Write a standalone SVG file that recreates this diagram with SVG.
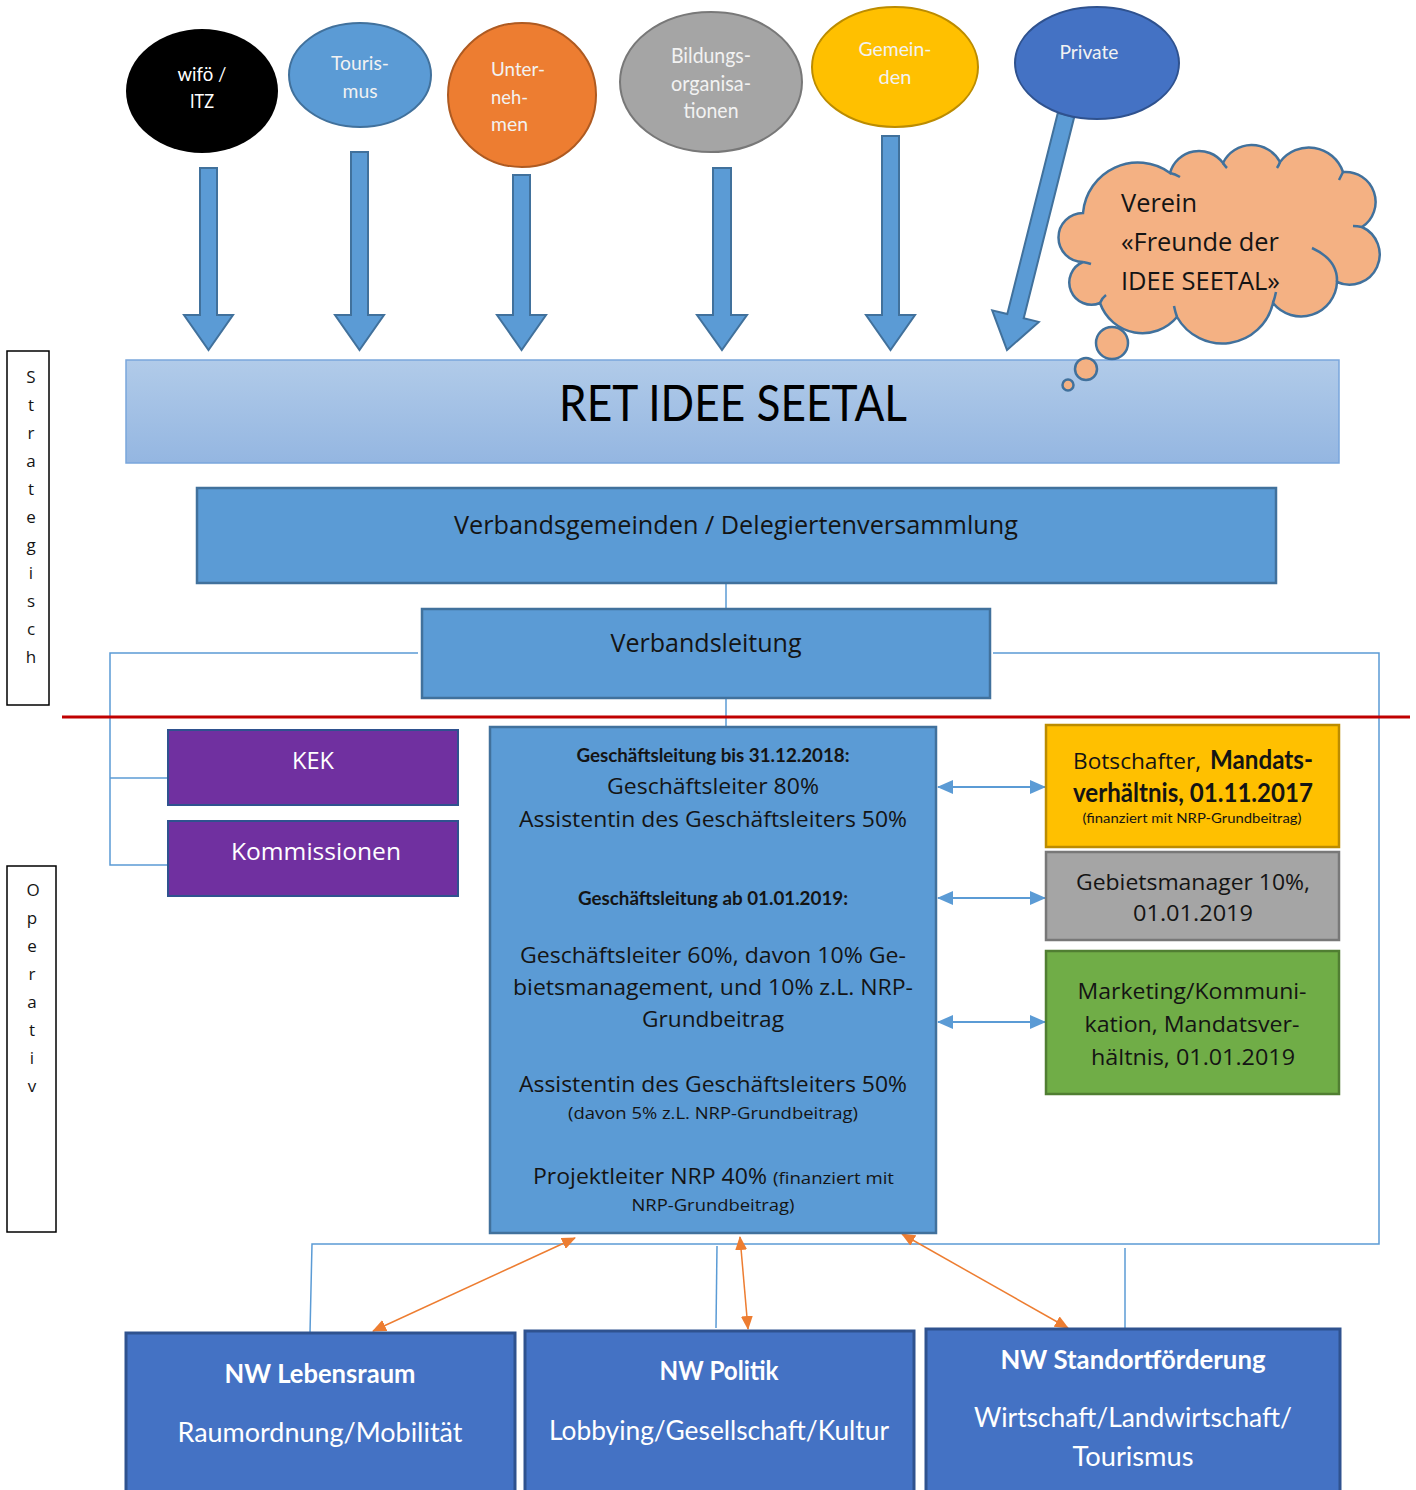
<svg xmlns="http://www.w3.org/2000/svg" width="1416" height="1490" viewBox="0 0 1416 1490">
<style>
.s{font-family:"Open Sans","Noto Sans","DejaVu Sans",sans-serif}
.c{font-family:Lato,"Liberation Sans",sans-serif}
.w{fill:#ffffff}
.k{fill:#141414}
.blk{fill:#5b9bd5;stroke:#41719c;stroke-width:2.5}
.barrow{fill:#5b9bd5;stroke:#41719c;stroke-width:2}
.conn{fill:none;stroke:#5b9bd5;stroke-width:1.5}
.dbl{fill:none;stroke:#5b9bd5;stroke-width:2;marker-start:url(#bh);marker-end:url(#bh)}
.org{fill:none;stroke:#ed7d31;stroke-width:1.5;marker-start:url(#oh);marker-end:url(#oh)}
.nw{fill:#4472c4;stroke:#2f528f;stroke-width:3}
.side{fill:#ffffff;stroke:#000000;stroke-width:1.5}
</style>
<defs>
<linearGradient id="retg" x1="0" y1="0" x2="0" y2="1">
<stop offset="0" stop-color="#b1cbe9"/>
<stop offset="1" stop-color="#94b6e1"/>
</linearGradient>
<marker id="bh" viewBox="0 0 16 14" refX="15" refY="7" markerWidth="16" markerHeight="14" markerUnits="userSpaceOnUse" orient="auto-start-reverse">
<path d="M0,0 L16,7 L0,14 z" fill="#5b9bd5"/>
</marker>
<marker id="oh" viewBox="0 0 14 12" refX="13" refY="6" markerWidth="14" markerHeight="12" markerUnits="userSpaceOnUse" orient="auto-start-reverse">
<path d="M0,0 L14,6 L0,12 z" fill="#ed7d31"/>
</marker>
</defs>
<rect width="1416" height="1490" fill="#ffffff"/>

<!-- side labels -->
<g id="strategisch">
<rect class="side" x="7" y="351" width="42" height="354"/>
<g class="s k" font-size="17" text-anchor="middle">
<text x="31" y="383">S</text><text x="31" y="411">t</text><text x="31" y="439">r</text><text x="31" y="467">a</text><text x="31" y="495">t</text><text x="31" y="523">e</text><text x="31" y="551">g</text><text x="31" y="579">i</text><text x="31" y="607">s</text><text x="31" y="635">c</text><text x="31" y="663">h</text>
</g>
</g>
<g id="operativ">
<rect class="side" x="7" y="866" width="49" height="366"/>
<g class="s k" font-size="17" text-anchor="middle">
<text x="33" y="896">O</text><text x="32" y="924">p</text><text x="32" y="952">e</text><text x="32" y="980">r</text><text x="32" y="1008">a</text><text x="32" y="1036">t</text><text x="32" y="1064">i</text><text x="32" y="1092">v</text>
</g>
</g>

<!-- connectors -->
<g id="connectors">
<polyline class="conn" points="418,653 110,653 110,865 168,865"/>
<line class="conn" x1="110" y1="778" x2="168" y2="778"/>
<polyline class="conn" points="993,653 1379,653 1379,1244 312,1244 310,1333"/>
<line class="conn" x1="717" y1="1246" x2="716" y2="1328"/>
<line class="conn" x1="1125" y1="1248" x2="1125" y2="1328"/>
<line class="conn" x1="726" y1="583" x2="726" y2="609"/>
<line class="conn" x1="726" y1="698" x2="726" y2="727"/>
<line x1="62" y1="717" x2="1410" y2="717" stroke="#c00000" stroke-width="3"/>
<line class="dbl" x1="938" y1="787" x2="1045" y2="787"/>
<line class="dbl" x1="938" y1="898" x2="1045" y2="898"/>
<line class="dbl" x1="938" y1="1022" x2="1045" y2="1022"/>
<line class="org" x1="575" y1="1238" x2="373" y2="1331"/>
<line class="org" x1="740" y1="1237" x2="748" y2="1329"/>
<line class="org" x1="902" y1="1234" x2="1068" y2="1328"/>
<!-- block arrows -->
<polygon class="barrow" points="200,168 217,168 217,315 233,315 208.5,350 184,315 200,315"/>
<polygon class="barrow" points="351,152 368,152 368,315 384,315 359.5,350 335,315 351,315"/>
<polygon class="barrow" points="513,175 530,175 530,315 546,315 521.5,350 497,315 513,315"/>
<polygon class="barrow" points="713,168 731,168 731,315 747,315 722,350 697,315 713,315"/>
<polygon class="barrow" points="882,136 899,136 899,315 915,315 890.5,350 866,315 882,315"/>
<polygon class="barrow" points="1057.8,112.9 1074.2,117.1 1023.7,318.2 1038.8,321.9 1007,350 992.2,310.3 1007.3,314"/>
</g>

<!-- top ellipses -->
<g id="wifo">
<ellipse cx="202" cy="91" rx="76" ry="62" fill="#000000"/>
<text class="c w" font-size="19" text-anchor="middle"><tspan x="202" y="81" textLength="49" lengthAdjust="spacingAndGlyphs">wifö /</tspan><tspan x="202" y="108" textLength="24" lengthAdjust="spacingAndGlyphs">ITZ</tspan></text>
</g>
<g id="tourismus">
<ellipse cx="360" cy="75" rx="71" ry="52" fill="#5b9bd5" stroke="#41719c" stroke-width="2"/>
<text class="c" fill="#f2f2f2" font-size="19" text-anchor="middle"><tspan x="360" y="70" textLength="58" lengthAdjust="spacingAndGlyphs">Touris-</tspan><tspan x="360" y="98" textLength="35" lengthAdjust="spacingAndGlyphs">mus</tspan></text>
</g>
<g id="unternehmen">
<ellipse cx="522" cy="95" rx="74" ry="72" fill="#ed7d31" stroke="#ae5a21" stroke-width="2"/>
<text class="c" fill="#f2f2f2" font-size="19"><tspan x="491" y="76" textLength="54" lengthAdjust="spacingAndGlyphs">Unter-</tspan><tspan x="491" y="104" textLength="37" lengthAdjust="spacingAndGlyphs">neh-</tspan><tspan x="491" y="131" textLength="37" lengthAdjust="spacingAndGlyphs">men</tspan></text>
</g>
<g id="bildung">
<ellipse cx="711" cy="82" rx="91" ry="70" fill="#a5a5a5" stroke="#787878" stroke-width="2"/>
<text class="c" fill="#f2f2f2" font-size="21" text-anchor="middle"><tspan x="711" y="63" textLength="80" lengthAdjust="spacingAndGlyphs">Bildungs-</tspan><tspan x="711" y="91" textLength="80" lengthAdjust="spacingAndGlyphs">organisa-</tspan><tspan x="711" y="118" textLength="55" lengthAdjust="spacingAndGlyphs">tionen</tspan></text>
</g>
<g id="gemeinden">
<ellipse cx="895" cy="67" rx="83" ry="60" fill="#ffc000" stroke="#bc8c00" stroke-width="2"/>
<text class="c" fill="#f2f2f2" font-size="19" text-anchor="middle"><tspan x="895" y="56" textLength="73" lengthAdjust="spacingAndGlyphs">Gemein-</tspan><tspan x="895" y="84" textLength="33" lengthAdjust="spacingAndGlyphs">den</tspan></text>
</g>
<g id="private">
<ellipse cx="1097" cy="63" rx="82" ry="56" fill="#4472c4" stroke="#2f528f" stroke-width="2"/>
<text class="c" fill="#f2f2f2" font-size="19" text-anchor="middle" x="1089" y="59" textLength="59" lengthAdjust="spacingAndGlyphs">Private</text>
</g>

<!-- RET -->
<g id="ret">
<rect x="126" y="360" width="1213" height="103" fill="url(#retg)" stroke="#7aa6dc" stroke-width="1.5"/>
<text class="c" fill="#000000" font-size="50" text-anchor="middle" x="733" y="421" textLength="348" lengthAdjust="spacingAndGlyphs">RET IDEE SEETAL</text>
</g>

<!-- cloud -->
<g id="verein">
<path d="M1083,262 A24 24 0 0 1 1083,213 A55 55 0 0 1 1170,173 A30 30 0 0 1 1223,163 A32 32 0 0 1 1280,162 A36 36 0 0 1 1343,172 A30 30 0 0 1 1362,227 A30 30 0 0 1 1337,282 A36 36 0 0 1 1273,303 A52 52 0 0 1 1177,317 A45 45 0 0 1 1100,303 A22 22 0 0 1 1083,262 Z" fill="#f4b183" stroke="#41719c" stroke-width="2.5"/>
<path d="M1083,262 Q1088,263 1091,264 M1100,303 Q1102,298 1106,295 M1177,317 Q1175,311 1174,306 M1273,303 Q1275,297 1276,292 M1337,282 Q1338,260 1312,248 M1362,227 Q1357,226 1353,226 M1343,172 Q1341,176 1339,180 M1280,162 Q1279,165 1277,168 M1223,163 Q1225,166 1227,168 M1170,173 Q1175,174 1180,177" fill="none" stroke="#41719c" stroke-width="2.5"/>
<circle cx="1112" cy="343" r="16" fill="#f4b183" stroke="#41719c" stroke-width="2.5"/>
<circle cx="1086" cy="369" r="11" fill="#f4b183" stroke="#41719c" stroke-width="2.5"/>
<circle cx="1068" cy="385" r="5.5" fill="#f4b183" stroke="#41719c" stroke-width="2.5"/>
<text class="s k" font-size="25"><tspan x="1121" y="212" textLength="76" lengthAdjust="spacingAndGlyphs">Verein</tspan><tspan x="1121" y="251" textLength="158" lengthAdjust="spacingAndGlyphs">«Freunde der</tspan><tspan x="1121" y="290" textLength="159" lengthAdjust="spacingAndGlyphs">IDEE SEETAL»</tspan></text>
</g>

<g id="verbandsgemeinden">
<rect class="blk" x="197" y="488" width="1079" height="95"/>
<text class="s k" font-size="25" text-anchor="middle" x="736" y="534" textLength="564" lengthAdjust="spacingAndGlyphs">Verbandsgemeinden / Delegiertenversammlung</text>
</g>
<g id="verbandsleitung">
<rect class="blk" x="422" y="609" width="568" height="89"/>
<text class="s k" font-size="25" text-anchor="middle" x="706" y="652" textLength="191" lengthAdjust="spacingAndGlyphs">Verbandsleitung</text>
</g>

<g id="kek">
<rect x="168" y="730" width="290" height="75" fill="#7030a0" stroke="#2f528f" stroke-width="2"/>
<text class="s w" font-size="24" text-anchor="middle" x="313" y="769" textLength="42" lengthAdjust="spacingAndGlyphs">KEK</text>
</g>
<g id="kommissionen">
<rect x="168" y="821" width="290" height="75" fill="#7030a0" stroke="#2f528f" stroke-width="2"/>
<text class="s w" font-size="24" text-anchor="middle" x="316" y="860" textLength="170" lengthAdjust="spacingAndGlyphs">Kommissionen</text>
</g>

<g id="geschaeftsleitung">
<rect class="blk" x="490" y="727" width="446" height="506"/>
<g class="k" text-anchor="middle">
<text class="c" font-weight="bold" font-size="19" x="713" y="762" textLength="273" lengthAdjust="spacingAndGlyphs">Geschäftsleitung bis 31.12.2018:</text>
<text class="s" font-size="22" x="713" y="794" textLength="212" lengthAdjust="spacingAndGlyphs">Geschäftsleiter 80%</text>
<text class="s" font-size="22" x="713" y="827" textLength="388" lengthAdjust="spacingAndGlyphs">Assistentin des Geschäftsleiters 50%</text>
<text class="c" font-weight="bold" font-size="19" x="713" y="905" textLength="270" lengthAdjust="spacingAndGlyphs">Geschäftsleitung ab 01.01.2019:</text>
<text class="s" font-size="22" x="713" y="963" textLength="386" lengthAdjust="spacingAndGlyphs">Geschäftsleiter 60%, davon 10% Ge-</text>
<text class="s" font-size="22" x="713" y="995" textLength="400" lengthAdjust="spacingAndGlyphs">bietsmanagement, und 10% z.L. NRP-</text>
<text class="s" font-size="22" x="713" y="1027" textLength="142" lengthAdjust="spacingAndGlyphs">Grundbeitrag</text>
<text class="s" font-size="22" x="713" y="1092" textLength="388" lengthAdjust="spacingAndGlyphs">Assistentin des Geschäftsleiters 50%</text>
<text class="s" font-size="17" x="713" y="1119" textLength="290" lengthAdjust="spacingAndGlyphs">(davon 5% z.L. NRP-Grundbeitrag)</text>
<text class="s" text-anchor="start"><tspan font-size="22" x="533" y="1184" textLength="234" lengthAdjust="spacingAndGlyphs">Projektleiter NRP 40%</tspan><tspan font-size="17" x="773" y="1184" textLength="121" lengthAdjust="spacingAndGlyphs">(finanziert mit</tspan></text>
<text class="s" font-size="17" x="713" y="1211" textLength="163" lengthAdjust="spacingAndGlyphs">NRP-Grundbeitrag)</text>
</g>
</g>

<g id="botschafter">
<rect x="1046" y="725" width="293" height="122" fill="#ffc000" stroke="#bc8c00" stroke-width="2.5"/>
<text class="k"><tspan class="s" font-size="22" x="1073" y="769" textLength="128" lengthAdjust="spacingAndGlyphs">Botschafter,</tspan><tspan class="c" font-size="27" font-weight="bold" x="1210" y="769" textLength="103" lengthAdjust="spacingAndGlyphs">Mandats-</tspan></text>
<text class="c k" font-size="27" font-weight="bold" x="1073" y="802" textLength="240" lengthAdjust="spacingAndGlyphs">verhältnis, 01.11.2017</text>
<text class="c k" font-size="14" text-anchor="middle" x="1192" y="823" textLength="219" lengthAdjust="spacingAndGlyphs">(finanziert mit NRP-Grundbeitrag)</text>
</g>
<g id="gebietsmanager">
<rect x="1046" y="852" width="293" height="88" fill="#a5a5a5" stroke="#787878" stroke-width="2.5"/>
<text class="s k" font-size="22" text-anchor="middle"><tspan x="1193" y="890" textLength="234" lengthAdjust="spacingAndGlyphs">Gebietsmanager 10%,</tspan><tspan x="1193" y="921" textLength="120" lengthAdjust="spacingAndGlyphs">01.01.2019</tspan></text>
</g>
<g id="marketing">
<rect x="1046" y="951" width="293" height="143" fill="#70ad47" stroke="#507e32" stroke-width="2.5"/>
<text class="s k" font-size="22" text-anchor="middle"><tspan x="1192" y="999" textLength="229" lengthAdjust="spacingAndGlyphs">Marketing/Kommuni-</tspan><tspan x="1192" y="1032" textLength="215" lengthAdjust="spacingAndGlyphs">kation, Mandatsver-</tspan><tspan x="1193" y="1065" textLength="204" lengthAdjust="spacingAndGlyphs">hältnis, 01.01.2019</tspan></text>
</g>

<g id="nw-lebensraum">
<rect class="nw" x="126" y="1333" width="389" height="170"/>
<text class="c w" font-size="27" font-weight="bold" text-anchor="middle" x="320" y="1383" textLength="191" lengthAdjust="spacingAndGlyphs">NW Lebensraum</text>
<text class="c w" font-size="27" text-anchor="middle" x="320" y="1442" textLength="285" lengthAdjust="spacingAndGlyphs">Raumordnung/Mobilität</text>
</g>
<g id="nw-politik">
<rect class="nw" x="525" y="1331" width="389" height="172"/>
<text class="c w" font-size="27" font-weight="bold" text-anchor="middle" x="719" y="1380" textLength="119" lengthAdjust="spacingAndGlyphs">NW Politik</text>
<text class="c w" font-size="27" text-anchor="middle" x="719" y="1440" textLength="340" lengthAdjust="spacingAndGlyphs">Lobbying/Gesellschaft/Kultur</text>
</g>
<g id="nw-standort">
<rect class="nw" x="926" y="1329" width="414" height="174"/>
<text class="c w" font-size="27" font-weight="bold" text-anchor="middle" x="1133" y="1369" textLength="265" lengthAdjust="spacingAndGlyphs">NW Standortförderung</text>
<text class="c w" font-size="27" text-anchor="middle"><tspan x="1133" y="1427" textLength="318" lengthAdjust="spacingAndGlyphs">Wirtschaft/Landwirtschaft/</tspan><tspan x="1133" y="1466" textLength="121" lengthAdjust="spacingAndGlyphs">Tourismus</tspan></text>
</g>
</svg>
